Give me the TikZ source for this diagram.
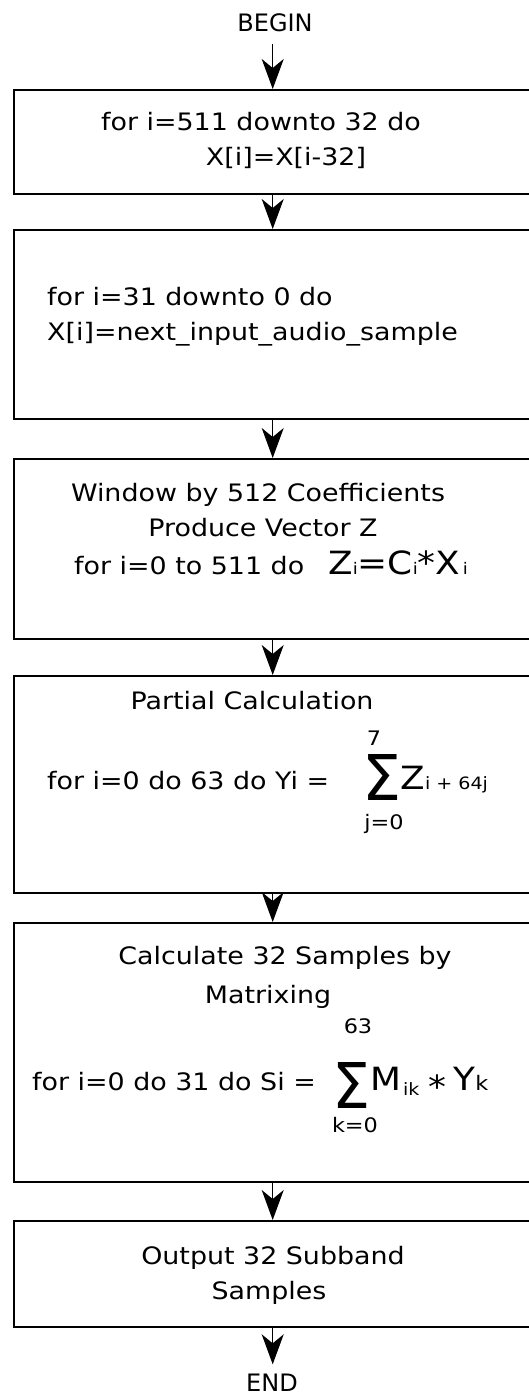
\documentclass[tikz,border=0pt]{standalone}
\usepackage{fontspec}
\setmainfont[FakeStretch=1.12]{DejaVu Sans}
\newfontfamily\capsfont{DejaVu Sans}
\usepackage{graphicx}
\usetikzlibrary{arrows.meta,calc}
\begin{document}
\begin{tikzpicture}[x=1pt,y=-1pt,
  every node/.style={inner sep=0pt, font=\fontsize{24}{29}\selectfont},
  stepbox/.style={draw, line width=2.4pt, minimum width=517pt, anchor=north west},
  txt/.style={anchor=base},
  txtl/.style={anchor=base west},
  capstxt/.style={anchor=base, font=\capsfont\fontsize{24}{29}\selectfont},
  arr/.style={line width=1.2pt, -{Stealth[length=30pt,width=22pt,inset=9pt]}},
  big/.style={anchor=base west, font=\fontsize{32}{36}\selectfont},
  subs/.style={anchor=base west, font=\fontsize{17}{20}\selectfont},
  lim/.style={anchor=base, font=\fontsize{20}{24}\selectfont},
  sig/.style={anchor=north west}]
\useasboundingbox (0,0) rectangle (529,1395);

% boxes
\node[stepbox, minimum height=104pt] (b1) at (13,89) {};
\node[stepbox, minimum height=189pt] (b2) at (13,229) {};
\node[stepbox, minimum height=180pt] (b3) at (13,458) {};
\node[stepbox, minimum height=217pt] (b4) at (13,675) {};
\node[stepbox, minimum height=259pt] (b5) at (13,922) {};
\node[stepbox, minimum height=106pt] (b6) at (13,1220) {};

% begin / end
\node[capstxt] (begin) at (275,31) {BEGIN};
\node[capstxt] (end) at (272,1391) {END};

% box 1
\node[txt] (t1a) at (261,130) {for i=511 downto 32 do};
\node[txt] (t1b) at (286,165) {X[i]=X[i-32]};

% box 2
\node[txtl] (t2a) at (47,305) {for i=31 downto 0 do};
\node[txtl] (t2b) at (47,340) {X[i]=next\_input\_audio\_sample};

% box 3
\node[txt] (t3a) at (258,501) {Window by 512 Coefficients};
\node[txt] (t3b) at (263,536) {Produce Vector Z};
\node[txtl] (t3c) at (74,574) {for i=0 to 511 do\quad{\fontsize{32}{36}\selectfont Z}{\fontsize{16}{18}\selectfont i}{\fontsize{32}{36}\selectfont =C}{\fontsize{16}{18}\selectfont i}{\fontsize{32}{36}\selectfont *X}{\fontsize{16}{18}\selectfont\,i}};

% box 4
\node[txt] (t4a) at (252,709) {Partial Calculation};
\node[txtl] (t4f) at (47,789) {for i=0 do 63 do Yi =};
\node[sig] (s4) at (362,754) {\resizebox{39pt}{46pt}{Σ}};
\node[big] (z4) at (400,789) {Z};
\node[subs] (z4s) at (z4.base east) {i + 64j};
\node[lim] (u4) at (374,745) {7};
\node[lim] (l4) at (384,829) {j=0};

% box 5
\node[txt] (t5a) at (285,964) {Calculate 32 Samples by};
\node[txt] (t5b) at (268,1003) {Matrixing};
\node[txtl] (t5f) at (32,1090) {for i=0 do 31 do Si =};
\node[sig] (s5) at (332,1062) {\resizebox{38pt}{46pt}{Σ}};
\node[big] (m5) at (370,1090) {M};
\node[subs] (m5s) at (403,1095) {ik};
\node[big] (st5) at (428,1098) {*};
\node[big] (y5) at (453,1090) {Y};
\node[subs, font=\fontsize{20}{24}\selectfont] (y5s) at (y5.base east) {k};
\node[lim] (u5) at (358,1033) {63};
\node[lim] (l5) at (355,1132) {k=0};

% box 6
\node[txt] (t6a) at (273,1264) {Output 32 Subband};
\node[txt] (t6b) at (269,1299) {Samples};

% connectors
\draw[arr] ($(b1.north |- begin.south)+(0,12)$) -- (b1.north);
\draw[arr] (b1.south) -- (b2.north);
\draw[arr] (b2.south) -- (b3.north);
\draw[arr] (b3.south) -- (b4.north);
\draw[arr] (b4.south) -- (b5.north);
\draw[arr] (b5.south) -- (b6.north);
\draw[arr] (b6.south) -- ($(b6.south |- end.north)+(0,-9)$);
\end{tikzpicture}
\end{document}
